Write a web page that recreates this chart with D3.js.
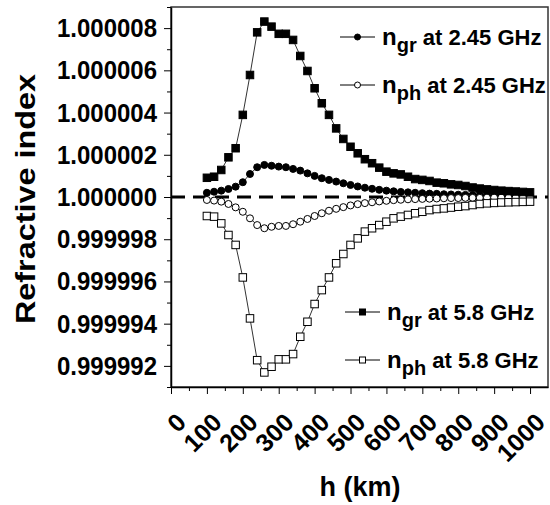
<!DOCTYPE html>
<html>
<head>
<meta charset="utf-8">
<script src="https://cdn.jsdelivr.net/npm/d3@7"></script>
<style>
  body { margin: 0; background: #fff; }
  svg { display: block; font-family: "Liberation Sans", Arial, sans-serif; font-weight: bold; }
</style>
</head>
<body>
<div id="chart"></div>
<script>
// altitude (km)
const heights = [100,120,140,160,180,200,220,240,260,280,300,320,340,360,380,400,420,440,460,480,
  500,520,540,560,580,600,620,640,660,680,700,720,740,760,780,800,820,840,860,880,900,920,940,960,980,1000];

// refractive index deviation, (n - 1) x 1e6
const ngr245 = [0.20,0.25,0.30,0.38,0.49,0.70,1.09,1.41,1.52,1.48,1.44,1.41,1.33,1.25,1.12,1.00,0.89,0.81,0.73,0.65,
  0.57,0.50,0.44,0.39,0.34,0.30,0.27,0.24,0.22,0.20,0.18,0.16,0.15,0.13,0.12,0.11,0.10,0.09,0.08,0.08,0.07,0.06,0.06,0.05,0.05,0.05];
const nph245 = [-0.14,-0.17,-0.22,-0.33,-0.49,-0.70,-1.01,-1.33,-1.48,-1.41,-1.37,-1.37,-1.29,-1.17,-1.04,-0.90,-0.77,-0.65,-0.56,-0.48,
  -0.40,-0.34,-0.29,-0.25,-0.21,-0.18,-0.15,-0.13,-0.11,-0.10,-0.09,-0.08,-0.07,-0.06,-0.05,-0.05,-0.04,-0.04,-0.04,-0.03,-0.03,-0.03,-0.03,-0.02,-0.02,-0.02];
const ngr58 = [0.91,0.96,1.28,1.88,2.31,3.89,5.78,7.80,8.31,8.07,7.73,7.73,7.44,6.68,5.97,5.15,4.44,3.89,3.25,2.75,
  2.38,2.07,1.79,1.60,1.39,1.20,1.12,1.07,0.96,0.85,0.81,0.76,0.68,0.65,0.60,0.57,0.52,0.45,0.40,0.36,0.33,0.30,0.28,0.26,0.24,0.22];
const nph58 = [-0.90,-0.93,-1.25,-1.80,-2.27,-3.81,-5.75,-7.73,-8.31,-8.04,-7.69,-7.69,-7.44,-6.62,-5.91,-5.07,-4.41,-3.81,-3.14,-2.70,
  -2.27,-1.96,-1.64,-1.48,-1.33,-1.17,-1.01,-0.93,-0.85,-0.77,-0.70,-0.62,-0.57,-0.54,-0.50,-0.46,-0.43,-0.38,-0.33,-0.30,-0.28,-0.26,-0.25,-0.24,-0.23,-0.22];

const xTicks = [0,100,200,300,400,500,600,700,800,900,1000];
const yTicks = [-8,-6,-4,-2,0,2,4,6,8];

const series = [
  { name: 'gr', freq: '2.45 GHz', values: ngr245, shape: 'circle', filled: true },
  { name: 'ph', freq: '2.45 GHz', values: nph245, shape: 'circle', filled: false },
  { name: 'gr', freq: '5.8 GHz', values: ngr58, shape: 'square', filled: true },
  { name: 'ph', freq: '5.8 GHz', values: nph58, shape: 'square', filled: false }
];

const W = 550, H = 505;
const m = { left: 171, right: 2, top: 7, bottom: 118 };
const svg = d3.select('#chart').append('svg').attr('width', W).attr('height', H);

const x = d3.scaleLinear().domain([0, 1050]).range([m.left, W - m.right]);
const y = d3.scaleLinear().domain([-9, 9]).range([H - m.bottom, m.top]);

// frame
svg.append('rect')
  .attr('x', x.range()[0]).attr('y', y.range()[1])
  .attr('width', x.range()[1] - x.range()[0]).attr('height', y.range()[0] - y.range()[1])
  .attr('fill', 'none').attr('stroke', '#333').attr('stroke-width', 1.5);

// y axis
const yAxis = svg.append('g').attr('transform', `translate(${m.left},0)`)
  .call(d3.axisLeft(y).tickValues(yTicks).tickSize(7).tickSizeOuter(0).tickPadding(7)
    .tickFormat(v => (1 + v / 1e6).toFixed(6)));
yAxis.select('.domain').attr('stroke-width', 1.5);
yAxis.selectAll('text').attr('font-size', 24).attr('fill', '#000')
  .attr('transform', 'scale(1,1.1)');
svg.append('g').attr('transform', `translate(${m.left},0)`)
  .call(d3.axisLeft(y).tickValues(d3.range(-9, 10, 2)).tickSize(4).tickSizeOuter(0).tickFormat(''))
  .select('.domain').remove();

// x axis
const xAxis = svg.append('g').attr('transform', `translate(0,${H - m.bottom})`)
  .call(d3.axisBottom(x).tickValues(xTicks).tickSize(7).tickSizeOuter(0).tickFormat(d3.format('d')));
xAxis.select('.domain').attr('stroke-width', 1.5);
xAxis.selectAll('text')
  .attr('font-size', 25).attr('fill', '#000')
  .attr('x', 0).attr('y', 0).attr('dy', 0)
  .attr('text-anchor', 'end')
  .attr('transform', 'translate(16,37) rotate(-45)');
svg.append('g').attr('transform', `translate(0,${H - m.bottom})`)
  .call(d3.axisBottom(x).tickValues(d3.range(50, 1050, 100)).tickSize(4).tickSizeOuter(0).tickFormat(''))
  .select('.domain').remove();

// axis titles
svg.append('text').attr('transform', 'translate(35,199) rotate(-90) scale(1.08,0.92)')
  .attr('text-anchor', 'middle').attr('font-size', 30).text('Refractive index');
svg.append('text').attr('x', 360).attr('y', 496)
  .attr('text-anchor', 'middle').attr('font-size', 27).text('h (km)');

// dashed reference line at n = 1
svg.append('line')
  .attr('x1', x.range()[0]).attr('x2', x.range()[1])
  .attr('y1', y(0)).attr('y2', y(0))
  .attr('stroke', '#000').attr('stroke-width', 3).attr('stroke-dasharray', '14,8');

const line = d3.line().x(d => x(d[0])).y(d => y(d[1]));

function drawMarker(sel, s, size) {
  if (s.shape === 'circle') {
    sel.append('circle').attr('r', size / 2)
      .attr('fill', s.filled ? '#000' : '#fff').attr('stroke', '#000').attr('stroke-width', 1);
  } else {
    sel.append('rect').attr('x', -size / 2).attr('y', -size / 2).attr('width', size).attr('height', size)
      .attr('fill', s.filled ? '#000' : '#fff').attr('stroke', '#000').attr('stroke-width', 1);
  }
}

series.forEach(s => {
  const pts = heights.map((h, i) => [h, s.values[i]]);
  const g = svg.append('g');
  g.append('path').datum(pts).attr('d', line)
    .attr('fill', 'none').attr('stroke', '#333').attr('stroke-width', 1);
  g.selectAll('g.pt').data(pts).join('g').attr('class', 'pt')
    .attr('transform', d => `translate(${x(d[0])},${y(d[1])})`)
    .each(function() { drawMarker(d3.select(this), s, s.shape === 'circle' ? 7 : 7.5); });
});

// legends
const legendRows = [
  { s: series[0], lx: 340, ly: 37, tx: 382 },
  { s: series[1], lx: 340, ly: 85, tx: 382 },
  { s: series[2], lx: 345, ly: 312, tx: 387 },
  { s: series[3], lx: 345, ly: 360, tx: 387 }
];
legendRows.forEach(r => {
  const g = svg.append('g');
  g.append('line').attr('x1', r.lx).attr('x2', r.lx + 35).attr('y1', r.ly).attr('y2', r.ly)
    .attr('stroke', '#000').attr('stroke-width', 1);
  const mk = g.append('g').attr('transform', `translate(${r.lx + 17.5},${r.ly})`);
  drawMarker(mk, r.s, 6);
  const t = g.append('text').attr('x', r.tx).attr('y', r.ly + 8).attr('font-size', 22);
  t.append('tspan').attr('font-size', 24).text('n');
  t.append('tspan').attr('dy', 7).attr('font-size', 20).text(r.s.name);
  t.append('tspan').attr('dy', -7).text(' at ' + r.s.freq);
});
</script>
</body>
</html>
